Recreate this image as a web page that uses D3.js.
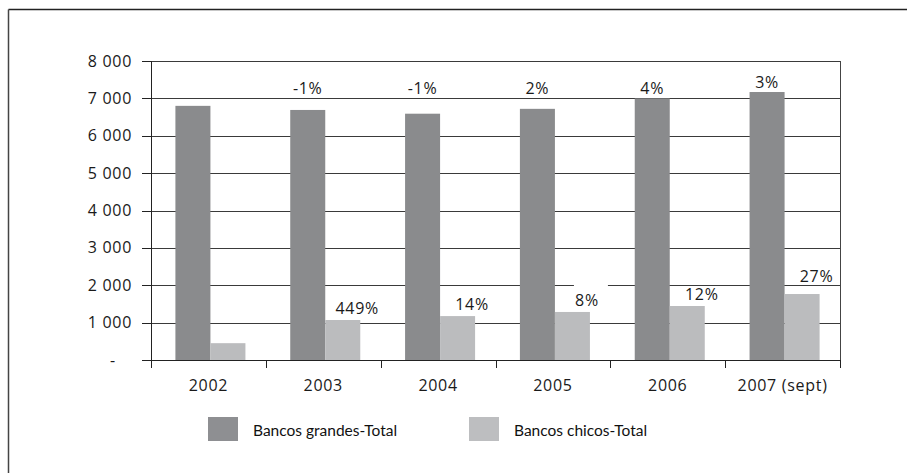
<!DOCTYPE html>
<html><head><meta charset="utf-8">
<script src="https://cdn.jsdelivr.net/npm/d3@7"></script>
<style>body{margin:0;background:#fff}svg{display:block}</style>
</head><body>
<svg id="c" width="907" height="473"></svg>
<script>
const categories = ["2002", "2003", "2004", "2005", "2006", "2007 (sept)"];
const seriesNames = ["Bancos grandes-Total", "Bancos chicos-Total"];
const grandes = [6800, 6690, 6590, 6720, 7000, 7170];
const chicos = [450, 1070, 1175, 1285, 1445, 1765];
const grandesLabels = ["", "-1%", "-1%", "2%", "4%", "3%"];
const chicosLabels = ["", "449%", "14%", "8%", "12%", "27%"];
const yTicks = [0, 1000, 2000, 3000, 4000, 5000, 6000, 7000, 8000];
const yTickLabels = ["-", "1 000", "2 000", "3 000", "4 000", "5 000", "6 000", "7 000", "8 000"];
const colors = ["#8a8b8d", "#bbbcbe"];

const svg = d3.select("#c");
const L = 151, R = 840, T = 61, B = 360;
const numFont = "'Open Sans', sans-serif";
const numSize = 16;
const numSpacing = 0.7;

// outer frame (top and left)
svg.append("line").attr("x1", 8.5).attr("x2", 907).attr("y1", 9.5).attr("y2", 9.5).attr("stroke", "#222").attr("stroke-width", 1.3);
svg.append("line").attr("x1", 8.5).attr("x2", 8.5).attr("y1", 9.5).attr("y2", 473).attr("stroke", "#444").attr("stroke-width", 1.5);

const x = d3.scaleBand().domain(categories).range([L, R]).padding(0);
const x1 = d3.scaleBand().domain(seriesNames).range([0, x.bandwidth()]).paddingInner(0).paddingOuter(0.64);
const y = d3.scaleLinear().domain([0, 8000]).range([B, T]);

// gridlines
svg.append("g").selectAll("line").data(yTicks.slice(1)).join("line")
  .attr("x1", L).attr("x2", R)
  .attr("y1", d => Math.round(y(d)) + 0.5).attr("y2", d => Math.round(y(d)) + 0.5)
  .attr("stroke", "#3a3a3a").attr("stroke-width", 1);

// bars
const data = categories.map((c, i) => ({c, vals: [grandes[i], chicos[i]], labs: [grandesLabels[i], chicosLabels[i]]}));
const g = svg.append("g").selectAll("g").data(data).join("g")
  .attr("transform", d => `translate(${x(d.c) + 2},0)`);
g.selectAll("rect").data(d => d.vals.map((v, k) => ({v, k}))).join("rect")
  .attr("x", d => x1(seriesNames[d.k]))
  .attr("width", x1.bandwidth())
  .attr("y", d => y(d.v))
  .attr("height", d => B - y(d.v))
  .attr("fill", d => colors[d.k]);

// axes lines
svg.append("line").attr("x1", L + 0.5).attr("x2", L + 0.5).attr("y1", T).attr("y2", B + 8).attr("stroke", "#222");
svg.append("line").attr("x1", R + 0.5).attr("x2", R + 0.5).attr("y1", T).attr("y2", B + 8).attr("stroke", "#444");
svg.append("line").attr("x1", L).attr("x2", R + 1).attr("y1", B + 0.5).attr("y2", B + 0.5).attr("stroke", "#222");

function numText(sel) {
  return sel.attr("font-family", numFont).attr("font-size", numSize)
    .attr("letter-spacing", numSpacing).attr("fill", "#1a1a1a");
}

// y ticks
const yAxis = svg.append("g");
yAxis.selectAll("line").data(yTicks).join("line")
  .attr("x1", L - 9).attr("x2", L)
  .attr("y1", d => Math.round(y(d)) + 0.5).attr("y2", d => Math.round(y(d)) + 0.5)
  .attr("stroke", "#222");
yAxis.selectAll("text").data(yTicks).join("text")
  .attr("x", (d, i) => i === 0 ? 113 : 132)
  .attr("y", d => y(d) + 5.5)
  .attr("text-anchor", (d, i) => i === 0 ? "middle" : "end")
  .call(numText)
  .text((d, i) => yTickLabels[i]);

// x ticks
const bounds = categories.map(c => x(c)).concat([R]);
svg.append("g").selectAll("line").data(bounds).join("line")
  .attr("x1", d => Math.round(d) + 0.5).attr("x2", d => Math.round(d) + 0.5)
  .attr("y1", B).attr("y2", B + 8).attr("stroke", "#222");
svg.append("g").selectAll("text").data(categories).join("text")
  .attr("x", d => x(d) + x.bandwidth() / 2)
  .attr("y", B + 31)
  .attr("text-anchor", "middle")
  .call(numText)
  .text(d => d);

// value labels
const labG = svg.append("g");
data.forEach(d => {
  const bx = x(d.c) + 2;
  if (d.labs[0]) {
    labG.append("text")
      .attr("x", bx + x1(seriesNames[0]) + x1.bandwidth() / 2)
      .attr("y", Math.min(y(d.vals[0]), y(7000)) - 4)
      .attr("text-anchor", "middle").call(numText).text(d.labs[0]);
  }
  if (d.labs[1]) {
    const tx = bx + x1(seriesNames[1]) + x1.bandwidth() - 3;
    const ty = y(d.vals[1]) - (d.c === "2007 (sept)" ? 12 : 6);
    if (d.c === "2005") {
      labG.append("rect").attr("x", tx - 13).attr("y", y(2000) - 0.5)
        .attr("width", 34).attr("height", ty + 3 - y(2000)).attr("fill", "#fff");
    }
    labG.append("text").attr("x", tx).attr("y", ty)
      .attr("text-anchor", "middle").call(numText).text(d.labs[1]);
  }
});

// legend
const legX = [208, 469];
const leg = svg.append("g");
seriesNames.forEach((s, i) => {
  leg.append("rect").attr("x", legX[i]).attr("y", 417).attr("width", 30).attr("height", 24).attr("fill", i === 0 ? "#8e8f92" : "#bdbec0");
  leg.append("text").attr("x", legX[i] + 45).attr("y", 435.5)
    .attr("font-family", "Lato, sans-serif").attr("font-size", 15.5).attr("fill", "#111").text(s);
});
</script>
</body></html>
